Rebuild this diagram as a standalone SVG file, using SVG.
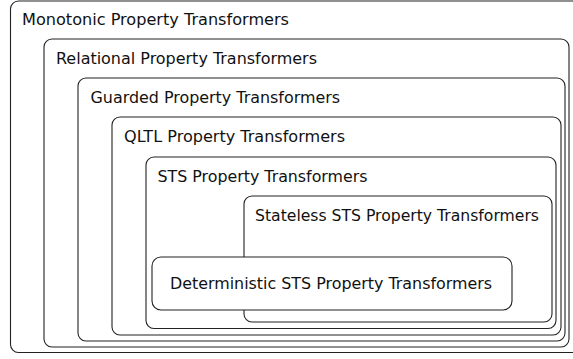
<svg xmlns="http://www.w3.org/2000/svg" width="573" height="359" viewBox="0 0 573 359">
<style>
.box{fill:#fff;stroke:#222;stroke-width:1.1}
.lbl{font-family:"DejaVu Sans","Liberation Sans",sans-serif;font-size:16px;fill:#111}
</style>
<rect width="573" height="359" fill="#fff"/>
<g id="monotonic">
<rect class="box" x="10.5" y="1" width="580" height="351.5" rx="8"/>
<text class="lbl" x="22" y="25" textLength="267" lengthAdjust="spacingAndGlyphs">Monotonic Property Transformers</text>
</g>
<g id="relational">
<rect class="box" x="44" y="39" width="525" height="308" rx="8"/>
<text class="lbl" x="56" y="64" textLength="261" lengthAdjust="spacingAndGlyphs">Relational Property Transformers</text>
</g>
<g id="guarded">
<rect class="box" x="78" y="78" width="487" height="263" rx="8"/>
<text class="lbl" x="90.5" y="103" textLength="249.5" lengthAdjust="spacingAndGlyphs">Guarded Property Transformers</text>
</g>
<g id="qltl">
<rect class="box" x="112" y="117" width="449" height="218" rx="8"/>
<text class="lbl" x="124" y="142" textLength="221" lengthAdjust="spacingAndGlyphs">QLTL Property Transformers</text>
</g>
<g id="sts">
<rect class="box" x="146" y="157" width="410" height="171.5" rx="8"/>
<text class="lbl" x="157.5" y="182" textLength="210" lengthAdjust="spacingAndGlyphs">STS Property Transformers</text>
</g>
<g id="stateless">
<rect class="box" x="244" y="196" width="308" height="126" rx="8"/>
<text class="lbl" x="255" y="221" textLength="284" lengthAdjust="spacingAndGlyphs">Stateless STS Property Transformers</text>
</g>
<g id="deterministic">
<rect class="box" x="152" y="257" width="360" height="53" rx="9"/>
<text class="lbl" x="170" y="288.5" textLength="322" lengthAdjust="spacingAndGlyphs">Deterministic STS Property Transformers</text>
</g>
<g id="connectors"/>
</svg>
